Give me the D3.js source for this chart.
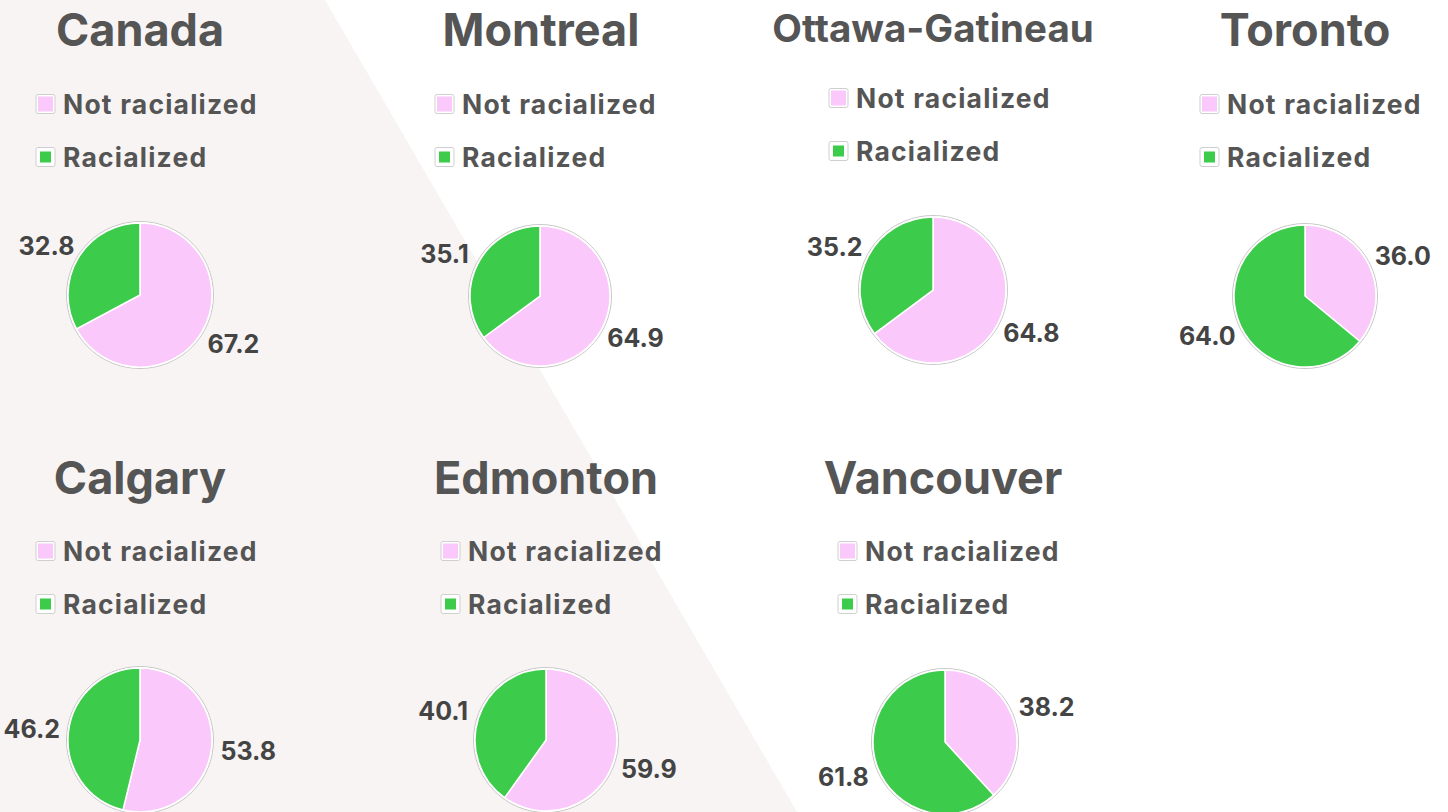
<!DOCTYPE html>
<html>
<head>
<meta charset="utf-8">
<script src="https://cdn.jsdelivr.net/npm/d3@7"></script>
<style>
  body { margin: 0; background: #fff; }
  svg { display: block; font-family: Inter, "Open Sans", sans-serif; }
</style>
</head>
<body>
<svg id="chart" width="1448" height="812"></svg>
<script>
// data
const regions = ["Canada", "Montreal", "Ottawa-Gatineau", "Toronto", "Calgary", "Edmonton", "Vancouver"];
const notRacialized = [67.2, 64.9, 64.8, 36.0, 53.8, 59.9, 38.2];
const racialized    = [32.8, 35.1, 35.2, 64.0, 46.2, 40.1, 61.8];
const legendLabels  = ["Not racialized", "Racialized"];

// layout of each small panel (title centre, legend left edge, pie centre)
const panels = [
  { cx: 140,  ty: 46,  tsize: 45, lx: 36,   ly: 104, px: 140,  py: 295, r: 72 },
  { cx: 541,  ty: 46,  tsize: 45, lx: 435,  ly: 104, px: 540,  py: 296, r: 70 },
  { cx: 933,  ty: 42,  tsize: 38.5, lx: 829, ly: 98, px: 933,  py: 290, r: 73 },
  { cx: 1305, ty: 46,  tsize: 45, lx: 1200, ly: 104, px: 1305, py: 296, r: 71 },
  { cx: 140,  ty: 494, tsize: 45, lx: 36,   ly: 551, px: 140,  py: 740, r: 72 },
  { cx: 546,  ty: 494, tsize: 45, lx: 441,  ly: 551, px: 546,  py: 740, r: 71 },
  { cx: 943,  ty: 494, tsize: 45, lx: 838,  ly: 551, px: 945,  py: 742, r: 72 }
];

const color = d3.scaleOrdinal().domain(legendLabels).range(["#fac8fa", "#3dcb4b"]);

const svg = d3.select("#chart");

// light background band on the left
svg.append("path")
   .attr("d", "M0,0 L325,0 L797,812 L0,812 Z")
   .attr("fill", "#f8f4f3");

const pie = d3.pie().sort(null).value(d => d.value);

regions.forEach((name, i) => {
  const p = panels[i];
  const g = svg.append("g");

  // title
  g.append("text")
   .attr("x", p.cx).attr("y", p.ty)
   .attr("text-anchor", "middle")
   .attr("font-size", p.tsize)
   .attr("font-weight", 700)
   .attr("fill", "#555")
   .text(name);

  // legend
  legendLabels.forEach((lab, j) => {
    const y = p.ly + j * 53;
    g.append("rect")
     .attr("x", p.lx).attr("y", y - 9.5).attr("width", 19).attr("height", 19)
     .attr("rx", 2).attr("fill", "#fff").attr("stroke", "#cfcfcf");
    const s = j === 0 ? 15 : 11;
    g.append("rect")
     .attr("x", p.lx + 9.5 - s / 2).attr("y", y - s / 2).attr("width", s).attr("height", s)
     .attr("fill", color(lab));
    g.append("text")
     .attr("x", p.lx + 27).attr("y", y + 10)
     .attr("font-size", 26.5)
     .attr("font-weight", 700)
     .attr("letter-spacing", 1.2)
     .attr("fill", "#555")
     .text(lab);
  });

  // pie
  const data = [
    { key: legendLabels[0], value: notRacialized[i] },
    { key: legendLabels[1], value: racialized[i] }
  ];
  const arcs = pie(data);
  const arc = d3.arc().innerRadius(0).outerRadius(p.r);
  // labels sit outside the slice, a bit further out sideways than up/down
  const labelPos = d => {
    const a = (d.startAngle + d.endAngle) / 2;
    return [Math.sin(a) * (p.r + 37), -Math.cos(a) * (p.r + 24)];
  };

  const pg = g.append("g").attr("transform", `translate(${p.px},${p.py})`);
  pg.append("circle").attr("r", p.r + 1.5).attr("fill", "#fff").attr("stroke", "#c8c8c8").attr("stroke-width", 1);
  pg.selectAll("path.slice")
    .data(arcs)
    .enter().append("path")
    .attr("class", "slice")
    .attr("d", arc)
    .attr("fill", d => color(d.data.key))
    .attr("stroke", "#fff")
    .attr("stroke-width", 1.5);

  pg.selectAll("text.lbl")
    .data(arcs)
    .enter().append("text")
    .attr("class", "lbl")
    .attr("transform", d => `translate(${labelPos(d)})`)
    .attr("text-anchor", "middle")
    .attr("dy", "0.36em")
    .attr("font-size", 25)
    .attr("font-weight", 700)
    .attr("fill", "#444")
    .text(d => d3.format(".1f")(d.data.value));
});
</script>
</body>
</html>
